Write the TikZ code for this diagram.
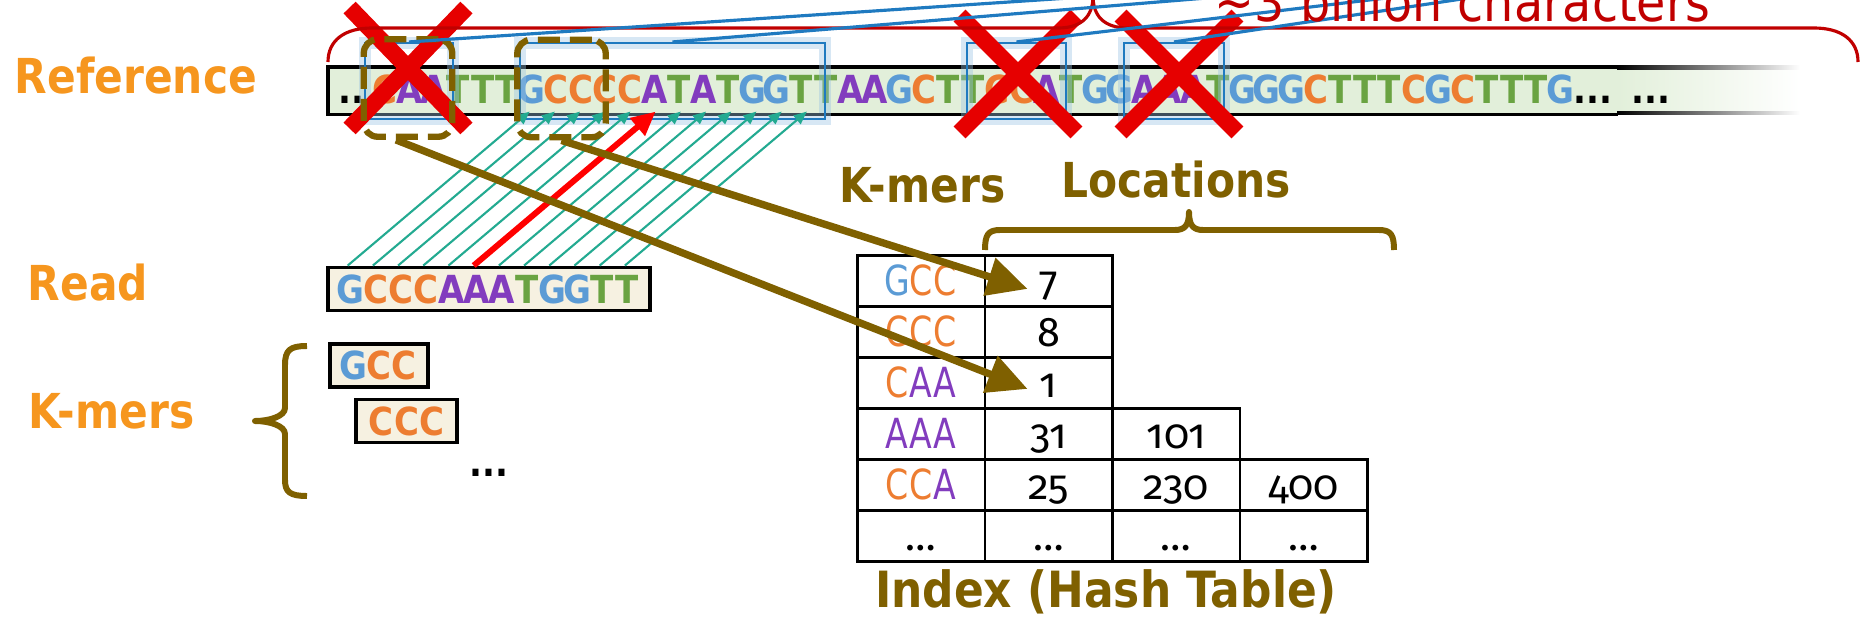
\documentclass[tikz,border=0pt]{standalone}
\usepackage{fontspec}
\usetikzlibrary{arrows.meta,shapes.misc,calc}
\newfontfamily\tahoma[FakeStretch=0.88]{DejaVu Sans}
\newfontfamily\tahomanarrow[FakeStretch=0.8]{DejaVu Sans}
\newfontfamily\numfont[Numbers=OldStyle]{Fira Sans}
\definecolor{baseA}{RGB}{130,60,190}
\definecolor{baseC}{RGB}{237,125,49}
\definecolor{baseG}{RGB}{91,155,213}
\definecolor{baseT}{RGB}{106,163,66}
\definecolor{tagorange}{RGB}{246,150,30}
\definecolor{idxbrown}{RGB}{127,96,0}
\definecolor{xred}{RGB}{230,0,0}
\definecolor{lenred}{RGB}{192,0,0}
\definecolor{hitblue}{RGB}{31,122,192}
\definecolor{matchteal}{RGB}{35,170,145}
\definecolor{barfill}{RGB}{226,239,218}
\definecolor{readfill}{RGB}{246,241,225}

% one coloured letter per base, on a fixed pitch
\newlength\dnapitch
\makeatletter
\newcommand\dna[1]{\dna@loop#1\@nil}
\def\dna@loop#1{\ifx#1\@nil\else\makebox[\dnapitch]{\textcolor{base#1}{#1}}\expandafter\dna@loop\fi}
\makeatother

\begin{document}
\begin{tikzpicture}[
  x=0.1mm, y=-0.1mm,
  lbl/.style={font={\tahoma\bfseries\fontsize{13.7pt}{16pt}\selectfont}, inner sep=0pt, anchor=base west},
  tag/.style={lbl, text=tagorange},
  head/.style={lbl, text=idxbrown},
  seqfont/.style={font={\tahoma\bfseries\fontsize{11pt}{13pt}\selectfont}},
  seqbox/.style={seqfont, draw, line width=1.1pt, fill=readfill, inner sep=0pt,
                 minimum height=4.3mm, text height=2.83mm, text depth=0pt,
                 execute at begin node={\setlength\dnapitch{2.52mm}}},
  hit/.style={draw=hitblue, line width=0.6pt, inner sep=0pt, minimum height=7.6mm,
              preaction={draw=hitblue!45, line width=1.2mm, opacity=0.4}},
  win/.style={draw=idxbrown, line width=1.8pt, dash pattern=on 2.2mm off 1mm,
              rounded corners=1.4mm, inner sep=0pt, minimum width=8.85mm, minimum height=9.75mm},
  xmark/.style={cross out, draw=xred, line width=4.8pt, inner sep=0pt, minimum width=10mm},
  match/.style={-{Triangle[length=1.3mm,width=1.1mm]}, matchteal, line width=0.6pt},
  mis/.style={-{Triangle[length=2.4mm,width=2.2mm]}, red, line width=1.7pt},
  hitline/.style={hitblue, line width=0.9pt},
  lenbrace/.style={lenred, line width=0.9pt},
  idxbrace/.style={idxbrown, line width=1.7pt, line join=round},
  lookup/.style={-{Triangle[length=4mm,width=3.8mm]}, idxbrown, line width=2.1pt},
  cell/.style={draw, line width=0.8pt, minimum width=12.75mm, minimum height=5.1mm, inner sep=0pt,
               text height=3.6mm, text depth=0.7mm, anchor=north west},
  kcell/.style={cell, font={\tahomanarrow\fontsize{11.8pt}{13pt}\selectfont},
                execute at begin node={\setlength\dnapitch{2.4mm}}},
  vcell/.style={cell, font={\numfont\fontsize{11.8pt}{13pt}\selectfont}},
]
\useasboundingbox (0,0) rectangle (1860,620);

% ---------- Reference strand ----------
\node[fill=barfill, inner sep=0pt, minimum width=128.9mm, minimum height=4.6mm, anchor=north west] (refbar) at (328,67) {};
\shade[left color=barfill, right color=white] (1617,67) rectangle (1800,113);
\shade[left color=black, right color=white] (1617,65.5) rectangle (1800,69);
\shade[left color=black, right color=white] (1617,111) rectangle (1800,114.5);
\draw[line width=1pt] (refbar.north east) -- (refbar.north west) -- (refbar.south west) -- (refbar.south east);
\node[seqfont, inner sep=0pt, anchor=base west, execute at begin node={\setlength\dnapitch{2.45mm}}] (refseq) at (338,103)
  {\makebox[3.4mm][l]{..}\dna{CAATTTGCCCCATATGGTTAAGCTTCCATGGAAATGGGCTTTCGCTTTG}...\hspace{2mm}...};

% candidate hits
\node[hit, minimum width=8.8mm] (hit1) at (409,81) {};
\node[hit, minimum width=30.5mm] (hit2) at (672.5,81) {};
\node[hit, minimum width=9.9mm] (hit3) at (1016.5,81) {};
\node[hit, minimum width=10mm] (hit4) at (1174,81) {};

% ---------- Read and its k-mers ----------
\node[seqbox, minimum width=32.2mm] (read) at (489,289) {\dna{GCCCAAATGGTT}};
\node[seqbox, minimum width=9.8mm] (km1) at (379,365.5) {\dna{GCC}};
\node[seqbox, minimum width=10.1mm] (km2) at (406.5,421) {\dna{CCC}};
\node[seqfont, inner sep=0pt, anchor=base west] (kmdots) at (469,476) {...};

% base-by-base comparison (one mismatch in red)
\foreach \i in {0,...,11}{
  \ifnum\i=5\relax\else
    \draw[match] ($(read.north west)+({21.6+25.2*\i},0)$) -- ++(182,-154);
  \fi}
\draw[mis] ($(read.north west)+(147.6,0)$) -- ++(182,-154);

% rejected hits
\node[xmark, minimum height=10.4mm] (x1) at (408,68) {};
\node[xmark, minimum height=10mm] (x2) at (1018,74) {};
\node[xmark, minimum height=10mm] (x3) at (1179,74) {};

% looked-up windows
\node[win] (winA) at (408,88) {};
\node[win] (winB) at (561.5,88.5) {};

% genome length
\draw[lenbrace] (328,62) .. controls (328,40) and (345,28) .. (372,28) -- (1058,28)
  .. controls (1082,28) and (1093,16) .. (1093,-4) .. controls (1093,16) and (1104,28) .. (1128,28)
  -- (1814,28) .. controls (1841,28) and (1858,40) .. (1858,62);
\coordinate (far) at (1790,-50);
\foreach \n in {1,...,4}{\draw[hitline] (hit\n.north) -- (far);}
\node[font={\tahoma\fontsize{15.4pt}{17pt}\selectfont}, text=lenred, inner sep=0pt, anchor=base west] (len) at (1214,21)
  {\textasciitilde3 billion characters};

% ---------- Labels ----------
\node[tag] (reflbl) at (14,93) {Reference};
\node[tag] (readlbl) at (27,300) {Read};
\node[tag] (kmlbl) at (28,428) {K-mers};
\draw[idxbrace] (307,346) .. controls (290,346) and (285,350) .. (285,365) -- (285,408)
  .. controls (285,416) and (270,421) .. (255,421) .. controls (270,421) and (285,426) .. (285,434)
  -- (285,480) .. controls (285,492) and (290,496) .. (307,496);

% ---------- Index (hash table) ----------
\foreach \r/\km in {0/GCC,1/CCC,2/CAA,3/AAA,4/CCA}
  \node[kcell] (k\r) at (856,{254+51*\r}) {\expandafter\dna\expandafter{\km}};
\node[vcell] (k5) at (856,509) {\ldots};
\foreach \r/\v in {0/7,1/8,2/1,3/31,4/25,5/\ldots}
  \node[vcell] (loc\r-1) at (983.5,{254+51*\r}) {\v};
\foreach \r/\v in {3/101,4/230,5/\ldots}
  \node[vcell] (loc\r-2) at (1111,{254+51*\r}) {\v};
\foreach \r/\v in {4/400,5/\ldots}
  \node[vcell] (loc\r-3) at (1238.5,{254+51*\r}) {\v};

\node[head] (kmhead) at (839,202) {K-mers};
\node[head] (lochead) at (1061,197) {Locations};
\draw[idxbrace] (985,250) .. controls (985,235) and (988,230) .. (1000,230) -- (1175,230)
  .. controls (1185,230) and (1189,225) .. (1189,212) .. controls (1189,225) and (1193,230) .. (1203,230)
  -- (1379,230) .. controls (1391,230) and (1394,235) .. (1394,250);
\node[head, anchor=base, font={\tahoma\bfseries\fontsize{14.2pt}{16pt}\selectfont}] (idxname) at (1106,607) {Index (Hash Table)};

% lookups
\draw[lookup] ($(winA.south)+(-12,0)$) -- ($(loc2-1.west)+(44,6)$);
\draw[lookup] (winB.south) -- ($(loc0-1.west)+(44,8)$);

\end{tikzpicture}
\end{document}
